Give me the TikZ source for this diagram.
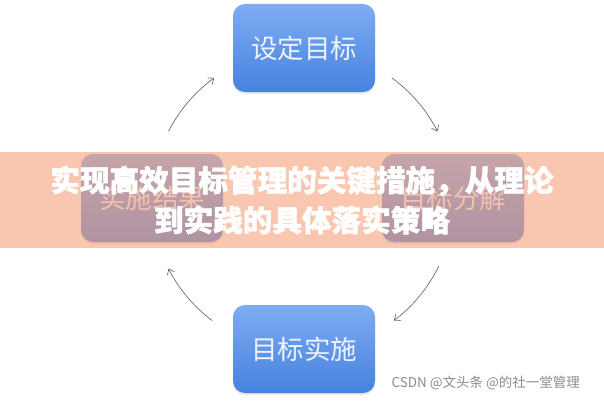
\documentclass[tikz,border=0pt]{standalone}
\usepackage{fontspec}
\usetikzlibrary{arrows.meta, positioning, shadows}
\newfontfamily\cjk{Noto Sans CJK SC}
\newfontfamily\cjktitolo{Noto Sans CJK SC}[BoldFeatures={FakeBold=1.6}]
\definecolor{boxtop}{RGB}{126,172,242}
\definecolor{boxbot}{RGB}{70,130,222}
\definecolor{banda}{RGB}{246,160,122}
\definecolor{freccia}{RGB}{105,110,118}
\definecolor{testo}{RGB}{238,244,255}

\begin{document}
\begin{tikzpicture}[x=1pt, y=1pt,
			fase/.style={rounded corners=12pt, minimum width=142pt, minimum height=88pt,
				top color=boxtop, bottom color=boxbot, text=testo,
				font=\cjk\fontsize{26.5}{30}\selectfont,
				drop shadow={shadow xshift=0pt, shadow yshift=-2pt, opacity=0.18}},
			flusso/.style={->, >={Straight Barb[length=5pt, width=8pt]}, draw=freccia, line width=0.7pt}]
			
			\useasboundingbox (0,0) rectangle (604,400);
			\fill[white] (0,0) rectangle (604,400);
			
			% Fasi del ciclo, disposte a rombo
			\node[fase] (obiettivo) at (304,352) {设定目标};
			\node[fase] (scomposizione) at (453,202) {目标分解};
			\node[fase] (attuazione) at (304,51) {目标实施};
			\node[fase] (risultati) at (152,202) {\raisebox{-15pt}{实施结果}};
			
			% --- Frecce ad arco attorno al centro ---
			\coordinate (centro) at (303,200);
			\draw[flusso] ([shift={(54:151pt)}]centro) arc[start angle=54, end angle=27, radius=151pt];
			\draw[flusso] ([shift={(-26:151pt)}]centro) arc[start angle=-26, end angle=-53, radius=151pt];
			\draw[flusso] ([shift={(-127:151pt)}]centro) arc[start angle=-127, end angle=-153, radius=151pt];
			\draw[flusso] ([shift={(153:151pt)}]centro) arc[start angle=153, end angle=126, radius=151pt];
			
			% Fascia del titolo
			\fill[banda, opacity=0.6] (0,152) rectangle (604,248);
			\node[text=white, align=center, font=\cjktitolo\bfseries\fontsize{29.6}{40}\selectfont] (titolo) at (302,200)
				{实现高效目标管理的关键措施，从理论\\到实践的具体落实策略};
			
			% Firma
			\node[anchor=west, text=black!45, font=\cjk\fontsize{13.5}{16}\selectfont] (firma) at (388,17) {CSDN @文头条 @的社一堂管理};
		\end{tikzpicture}
\end{document}
